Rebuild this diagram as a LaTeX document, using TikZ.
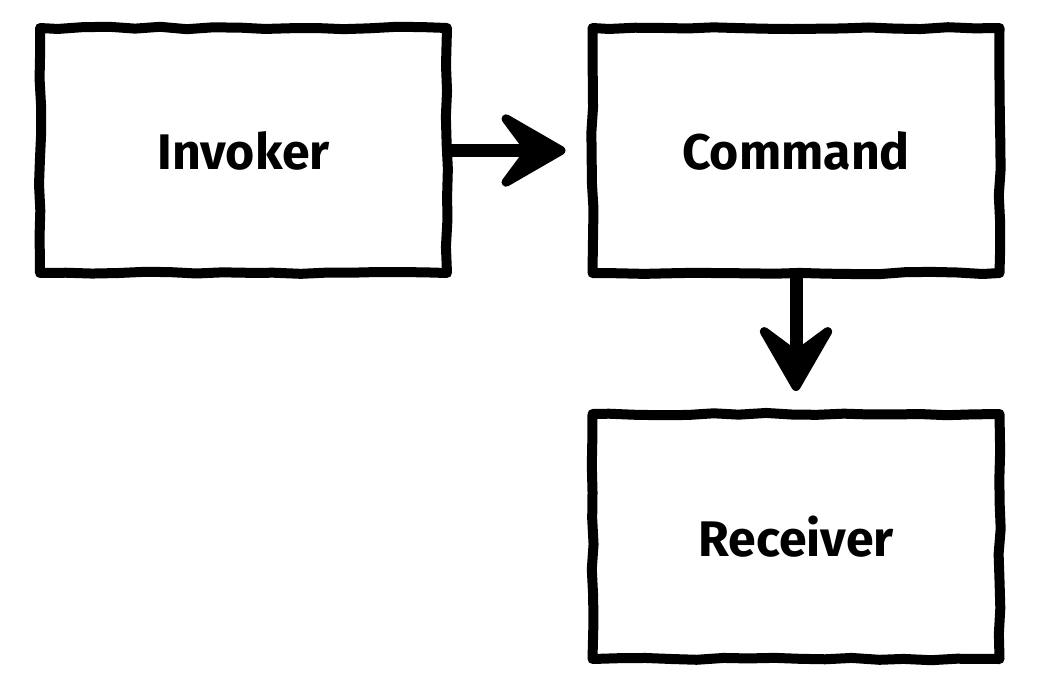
\documentclass[tikz,border=0pt]{standalone}
\usepackage{fontspec}
\setmainfont{Fira Sans}
\usetikzlibrary{arrows.meta,decorations.pathmorphing}

\begin{document}
\begin{tikzpicture}[x=1pt, y=-1pt, line width=10pt,
  sketch/.style={decorate, decoration={random steps, segment length=26pt, amplitude=1.2pt}},
  box/.style={draw, sketch, line join=round, line cap=round, minimum width=407pt, minimum height=245pt, font=\fontsize{50}{56}\selectfont\bfseries},
  flow/.style={line width=13pt, line cap=round, -{Stealth[length=80pt, width=92pt, inset=34pt, round, line width=9pt]}}]
  \pgfmathsetseed{7}
  \useasboundingbox (0,0) rectangle (1060,688);
  \node[box] (inv) at (243.5,150.5) {Invoker};
  \node[box] (cmd) at (796,150.5) {Command};
  \node[box] (rec) at (796,536.5) {Receiver};
  \draw[flow, shorten >=22pt] (inv.east) -- (cmd.west);
  \draw[flow, shorten >=18pt] (cmd.south) -- (rec.north);
\end{tikzpicture}
\end{document}
